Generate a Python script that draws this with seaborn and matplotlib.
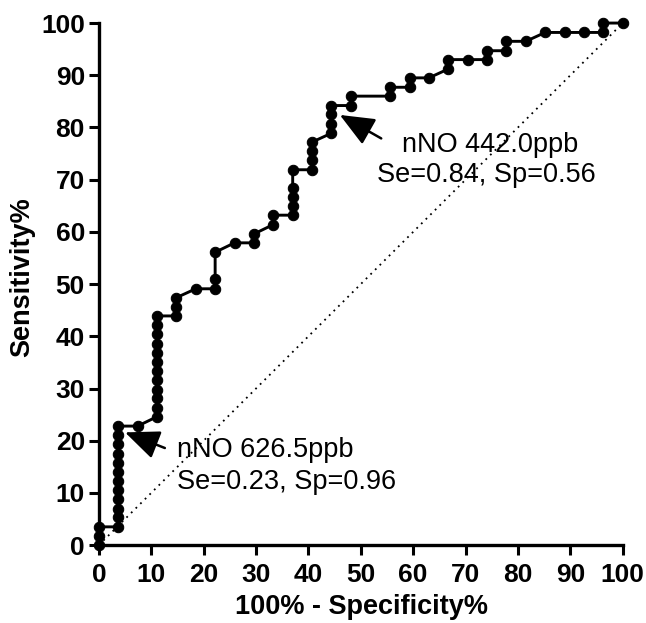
import pandas as pd
import matplotlib
matplotlib.use("Agg")
import matplotlib.pyplot as plt
import seaborn as sns

# ROC points (100% - specificity, sensitivity), in %
fpr = [0, 0, 0,
       3.7, 3.7, 3.7, 3.7, 3.7, 3.7, 3.7, 3.7, 3.7, 3.7, 3.7, 3.7,
       7.4,
       11.1, 11.1, 11.1, 11.1, 11.1, 11.1, 11.1, 11.1, 11.1, 11.1, 11.1, 11.1,
       14.8, 14.8, 14.8,
       18.5,
       22.2, 22.2, 22.2,
       25.9,
       29.6, 29.6,
       33.3, 33.3,
       37.0, 37.0, 37.0, 37.0, 37.0,
       40.7, 40.7, 40.7, 40.7,
       44.4, 44.4, 44.4, 44.4,
       48.1, 48.1,
       55.6, 55.6,
       59.3, 59.3,
       63.0,
       66.7, 66.7,
       70.4,
       74.1, 74.1,
       77.8, 77.8,
       81.5,
       85.2, 88.9, 92.6,
       96.3, 96.3,
       100]
sens = [0, 1.8, 3.5,
        3.5, 5.3, 7.0, 8.8, 10.5, 12.3, 14.0, 15.8, 17.5, 19.3, 21.1, 22.8,
        22.8,
        24.6, 26.3, 28.1, 29.8, 31.6, 33.3, 35.1, 36.8, 38.6, 40.4, 42.1, 43.9,
        43.9, 45.6, 47.4,
        49.1,
        49.1, 50.9, 56.1,
        57.9,
        57.9, 59.6,
        61.4, 63.2,
        63.2, 64.9, 66.7, 68.4, 71.9,
        71.9, 73.7, 75.4, 77.2,
        78.9, 80.7, 82.5, 84.2,
        84.2, 86.0,
        86.0, 87.7,
        87.7, 89.5,
        89.5,
        91.2, 93.0,
        93.0,
        93.0, 94.7,
        94.7, 96.5,
        96.5,
        98.2, 98.2, 98.2,
        98.2, 100,
        100]

ref_line = [0, 100]

cut_labels = ["nNO 626.5ppb", "Se=0.23, Sp=0.96", "nNO 442.0ppb", "Se=0.84, Sp=0.56"]

df = pd.DataFrame({"fpr": fpr, "sens": sens})

sns.set_theme(style="ticks")
plt.rcParams["font.family"] = ["Liberation Sans", "DejaVu Sans"]
plt.rcParams["text.color"] = "black"

fig = plt.figure(figsize=(6.46, 6.23), dpi=100)
ax = fig.add_axes([0.153, 0.125, 0.811, 0.838])

# chance line
ax.plot(ref_line, ref_line, color="black", lw=1.3, linestyle=(0, (1, 2.6)))

sns.lineplot(data=df, x="fpr", y="sens", sort=False, estimator=None,
             color="black", lw=2.1, marker="o", markersize=7.5,
             markeredgecolor="black", ax=ax, clip_on=False, zorder=5)

# cut-off annotations
arrow = dict(arrowstyle="-|>,head_length=0.85,head_width=0.36",
             mutation_scale=25, color="black", lw=1.8, shrinkA=0, shrinkB=0)
ax.annotate("", xy=(5.0, 21.6), xytext=(12.6, 18.6), arrowprops=arrow)
ax.text(14.9, 18.2, cut_labels[0], fontsize=19.5, va="center", ha="left", color="black")
ax.text(14.9, 12.1, cut_labels[1], fontsize=19.5, va="center", ha="left", color="black")

ax.annotate("", xy=(46.0, 82.4), xytext=(53.9, 77.9), arrowprops=arrow)
ax.text(57.8, 76.6, cut_labels[2], fontsize=19.5, va="center", ha="left", color="black")
ax.text(53.1, 70.9, cut_labels[3], fontsize=19.5, va="center", ha="left", color="black")

ax.set_xlim(0, 100)
ax.set_ylim(0, 100)
ax.set_xticks(range(0, 101, 10))
ax.set_yticks(range(0, 101, 10))
sns.despine(ax=ax)
for s in ["left", "bottom"]:
    ax.spines[s].set_linewidth(2.4)
    ax.spines[s].set_color("black")
ax.tick_params(axis="both", length=7, width=2.2, color="black",
               labelsize=19, labelcolor="black")
ax.tick_params(axis="x", pad=6)
ax.tick_params(axis="y", pad=3)
for lab in ax.get_xticklabels() + ax.get_yticklabels():
    lab.set_fontweight("bold")

ax.set_xlabel("100% - Specificity%", fontsize=19.5, fontweight="bold", color="black")
ax.set_ylabel("Sensitivity%", fontsize=19.5, fontweight="bold", color="black")
ax.xaxis.set_label_coords(0.502, -0.094)
ax.yaxis.set_label_coords(-0.122, 0.513)

fig.savefig("out.png", dpi=100)
